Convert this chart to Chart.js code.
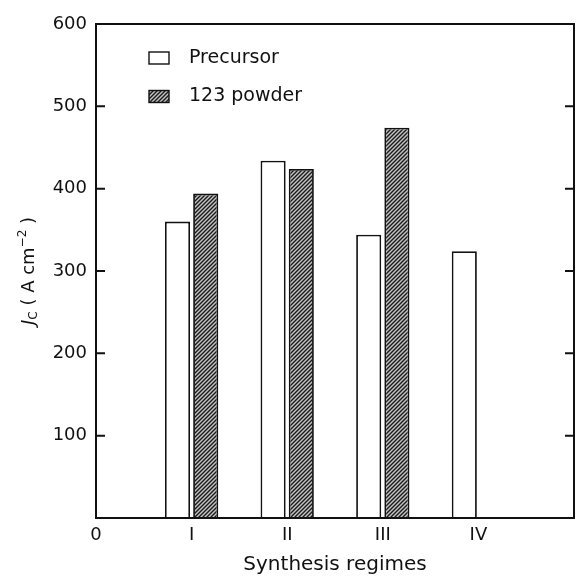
<!DOCTYPE html>
<html>
<head>
<meta charset="utf-8">
<script src="https://cdn.jsdelivr.net/npm/chart.js@4.4.1/dist/chart.umd.min.js"></script>
<style>
  html, body { margin: 0; padding: 0; background: #fff; }
  canvas { display: block; }
</style>
</head>
<body>
<canvas id="chart" width="581" height="577"></canvas>
<script>
// values
const regimes = [1, 2, 3, 4];
const regimeLabels = ["0", "I", "II", "III", "IV"];
const precursor = [360, 434, 344, 324];
const powder = [394, 424, 474, null];
const seriesNames = ["Precursor", "123 powder"];

const FONT = '"DejaVu Sans", "Liberation Sans", Arial, sans-serif';
const INK = "#111";

// diagonal hatch for the 123 powder bars
const makeHatch = () => {
  const c = document.createElement("canvas");
  c.width = 4;
  c.height = 4;
  const g = c.getContext("2d");
  g.fillStyle = "#c4c4c4";
  g.fillRect(0, 0, 4, 4);
  g.strokeStyle = "#1a1a1a";
  g.lineWidth = 1.4;
  g.beginPath();
  g.moveTo(0, 4); g.lineTo(4, 0);
  g.moveTo(-1, 1); g.lineTo(1, -1);
  g.moveTo(3, 5); g.lineTo(5, 3);
  g.stroke();
  return g.createPattern(c, "repeat");
};
const hatch = makeHatch();

// box, inside ticks, legend and the rich y title
const frame = {
  id: "frame",
  afterDatasetsDraw(chart) {
    const { ctx, chartArea: a, scales: { y } } = chart;
    ctx.save();
    ctx.strokeStyle = INK;
    ctx.lineWidth = 2;
    ctx.strokeRect(a.left, a.top, a.right - a.left, a.bottom - a.top);
    ctx.beginPath();
    y.ticks.forEach((t) => {
      if (t.value <= y.min || t.value >= y.max) return;
      const py = y.getPixelForValue(t.value);
      ctx.moveTo(a.left, py); ctx.lineTo(a.left + 9, py);
      ctx.moveTo(a.right - 9, py); ctx.lineTo(a.right, py);
    });
    ctx.stroke();

    // legend
    ctx.font = "19px " + FONT;
    ctx.textBaseline = "middle";
    chart.data.datasets.forEach((ds, i) => {
      const lx = a.left + 53;
      const ly = a.top + 28 + i * 38.5;
      ctx.fillStyle = ds.backgroundColor;
      ctx.fillRect(lx, ly, 20, 12);
      ctx.lineWidth = 1.4;
      ctx.strokeRect(lx, ly, 20, 12);
      ctx.fillStyle = INK;
      ctx.fillText(ds.label, lx + 40, ly + 6);
    });

    // y title: J_C ( A cm^-2 )
    const parts = [
      { t: "J", f: "italic 18px " + FONT, dy: 0 },
      { t: "C", f: "12px " + FONT, dy: 3 },
      { t: " ( A cm", f: "18px " + FONT, dy: 0 },
      { t: "\u22122", f: "12px " + FONT, dy: -8 },
      { t: " )", f: "18px " + FONT, dy: 0 },
    ];
    let w = 0;
    parts.forEach((p) => { ctx.font = p.f; p.w = ctx.measureText(p.t).width; w += p.w; });
    ctx.translate(34, (a.top + a.bottom) / 2);
    ctx.rotate(-Math.PI / 2);
    ctx.textBaseline = "alphabetic";
    ctx.textAlign = "left";
    let cx = -w / 2;
    parts.forEach((p) => {
      ctx.font = p.f;
      ctx.fillText(p.t, cx, p.dy);
      cx += p.w;
    });
    ctx.restore();
  },
};

new Chart(document.getElementById("chart"), {
  type: "bar",
  data: {
    datasets: [
      {
        label: seriesNames[0],
        data: regimes.map((x, i) => ({ x, y: precursor[i] })),
        backgroundColor: "#ffffff",
        borderColor: INK,
        borderWidth: 1.8,
      },
      {
        label: seriesNames[1],
        data: regimes.map((x, i) => ({ x, y: powder[i] })),
        backgroundColor: hatch,
        borderColor: INK,
        borderWidth: 1.8,
      },
    ],
  },
  options: {
    responsive: false,
    animation: false,
    categoryPercentage: 0.59,
    barPercentage: 0.89,
    layout: { padding: { left: 52, top: 24, right: 1, bottom: 0 } },
    plugins: { legend: { display: false }, tooltip: { enabled: false } },
    scales: {
      x: {
        type: "linear",
        min: 0,
        max: 5,
        offset: false,
        grid: { display: false, drawTicks: false, offset: false },
        border: { display: false },
        ticks: {
          stepSize: 1,
          padding: 7,
          maxRotation: 0,
          autoSkip: false,
          color: INK,
          font: { family: FONT, size: 18 },
          callback: (v) => regimeLabels[v] ?? "",
        },
        title: {
          display: true,
          text: "Synthesis regimes",
          color: INK,
          font: { family: FONT, size: 20 },
          padding: 0,
        },
        afterFit: (s) => { s.height = 59; },
      },
      y: {
        min: 0,
        max: 600,
        grid: { display: false, drawTicks: false },
        border: { display: false },
        ticks: {
          stepSize: 100,
          padding: 9,
          color: INK,
          font: { family: FONT, size: 18 },
          callback: (v) => (v === 0 ? "" : v),
        },
        afterFit: (s) => { s.width = 44; },
      },
    },
  },
  plugins: [frame],
});
</script>
</body>
</html>
